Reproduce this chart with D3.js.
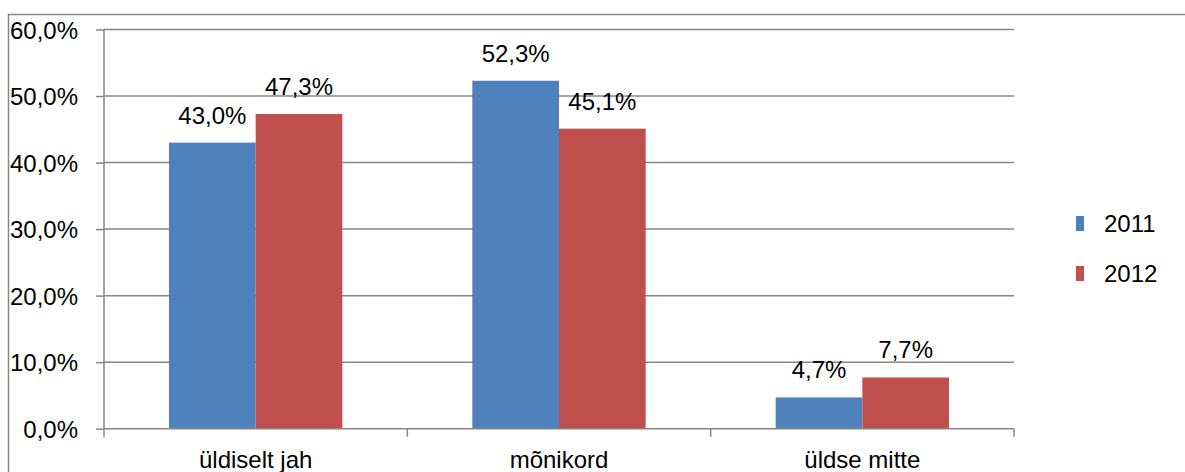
<!DOCTYPE html>
<html>
<head>
<meta charset="utf-8">
<script src="https://cdn.jsdelivr.net/npm/d3@7"></script>
<style>
  body { margin: 0; background: #fff; }
  text { font-family: "Liberation Sans", Arial, sans-serif; fill: #000; }
</style>
</head>
<body>
<div class="chart"></div>
<script>
const categories = ["üldiselt jah", "mõnikord", "üldse mitte"]
const seriesNames = ["2011", "2012"]
const values2011 = [43.0, 52.3, 4.7]
const values2012 = [47.3, 45.1, 7.7]
const yTicks = [0, 10, 20, 30, 40, 50, 60]

const colors = {
  blue: "#4F81BD",
  red: "#C0504D",
  grid: "#868686",
  border: "#878787"
}

const dims = {
  width: 1185,
  height: 472,
  margin: { top: 29.5, right: 171, bottom: 43, left: 104 }
}
dims.boundedWidth = dims.width - dims.margin.left - dims.margin.right
dims.boundedHeight = 428.7 - dims.margin.top

const data = categories.map((c, i) => ({
  category: c,
  values: [values2011[i], values2012[i]]
}))

const fmt = v => d3.format(".1f")(v).replace(".", ",") + "%"

const xScale = d3.scaleBand()
  .domain(categories)
  .range([0, dims.boundedWidth])
  .paddingInner(0.4286)
  .paddingOuter(0.2143)

const xInner = d3.scaleBand()
  .domain(seriesNames)
  .range([0, xScale.bandwidth()])

const yScale = d3.scaleLinear()
  .domain([0, 60])
  .range([dims.boundedHeight, 0])

const colorScale = d3.scaleOrdinal()
  .domain(seriesNames)
  .range([colors.blue, colors.red])

const svg = d3.select(".chart").append("svg")
    .attr("width", dims.width)
    .attr("height", dims.height)

// outer chart border, runs off the picture on the right and bottom
svg.append("rect")
    .attr("x", 8.5)
    .attr("y", 14.5)
    .attr("width", 1190)
    .attr("height", 480)
    .attr("fill", "none")
    .attr("stroke", colors.border)
    .attr("stroke-width", 1.5)

const bounds = svg.append("g")
    .attr("transform", `translate(${dims.margin.left}, ${dims.margin.top})`)

// gridlines
bounds.append("g")
  .selectAll("line")
  .data(yTicks.filter(t => t > 0))
  .join("line")
    .attr("x1", 0)
    .attr("x2", dims.boundedWidth)
    .attr("y1", d => yScale(d))
    .attr("y2", d => yScale(d))
    .attr("stroke", colors.grid)
    .attr("stroke-width", 1.5)

// y axis
const yAxis = d3.axisLeft(yScale)
  .tickValues(yTicks)
  .tickSize(8)
  .tickPadding(18)
  .tickFormat(fmt)

bounds.append("g")
  .call(yAxis)
  .call(g => g.selectAll("line, path").attr("stroke", colors.grid).attr("stroke-width", 1.5))
  .call(g => g.select(".domain").attr("d", `M0,0V${dims.boundedHeight}`))
  .call(g => g.selectAll("text")
    .style("font-size", "24px")
    .style("font-family", "Liberation Sans, Arial, sans-serif")
    .attr("fill", "#000")
    .attr("dy", "0.36em"))

// bars
const groups = bounds.selectAll(".group")
  .data(data)
  .join("g")
    .attr("class", "group")
    .attr("transform", d => `translate(${xScale(d.category)}, 0)`)

groups.selectAll("rect")
  .data(d => d.values.map((v, i) => ({ key: seriesNames[i], value: v })))
  .join("rect")
    .attr("x", d => xInner(d.key))
    .attr("y", d => yScale(d.value))
    .attr("width", xInner.bandwidth())
    .attr("height", d => dims.boundedHeight - yScale(d.value))
    .attr("fill", d => colorScale(d.key))

groups.selectAll(".label")
  .data(d => d.values.map((v, i) => ({ key: seriesNames[i], value: v })))
  .join("text")
    .attr("class", "label")
    .attr("x", d => xInner(d.key) + xInner.bandwidth() / 2)
    .attr("y", d => yScale(d.value) - 19)
    .attr("text-anchor", "middle")
    .style("font-size", "24px")
    .text(d => fmt(d.value))

// x axis
const xAxisG = bounds.append("g")
    .attr("transform", `translate(0, ${dims.boundedHeight})`)

xAxisG.append("line")
    .attr("x1", 0)
    .attr("x2", dims.boundedWidth)
    .attr("stroke", colors.grid)
    .attr("stroke-width", 1.5)

xAxisG.selectAll(".cat-tick")
  .data(d3.range(categories.length + 1))
  .join("line")
    .attr("class", "cat-tick")
    .attr("x1", i => xScale.step() * i)
    .attr("x2", i => xScale.step() * i)
    .attr("y1", 0)
    .attr("y2", 8)
    .attr("stroke", colors.grid)
    .attr("stroke-width", 1.5)

xAxisG.selectAll(".cat-label")
  .data(categories)
  .join("text")
    .attr("class", "cat-label")
    .attr("x", d => xScale(d) + xScale.bandwidth() / 2)
    .attr("y", 39)
    .attr("text-anchor", "middle")
    .style("font-size", "24px")
    .text(d => d)

// legend
const legend = svg.append("g")
    .attr("transform", "translate(1076, 216)")

const legendItems = legend.selectAll("g")
  .data(seriesNames)
  .join("g")
    .attr("transform", (d, i) => `translate(0, ${i * 50})`)

legendItems.append("rect")
    .attr("width", 8)
    .attr("height", 15)
    .attr("fill", d => colorScale(d))

legendItems.append("text")
    .attr("x", 28)
    .attr("y", 16)
    .style("font-size", "24px")
    .text(d => d)
</script>
</body>
</html>
